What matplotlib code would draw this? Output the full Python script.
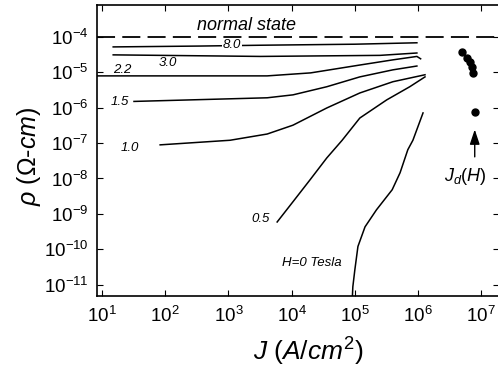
import matplotlib
matplotlib.use('Agg')
import matplotlib.pyplot as plt

plt.rcParams['font.family'] = ['Liberation Sans', 'DejaVu Sans']
plt.rcParams['mathtext.fontset'] = 'custom'
plt.rcParams['mathtext.rm'] = 'Liberation Sans'
plt.rcParams['mathtext.it'] = 'Liberation Sans:italic'

# resistivity curves rho(J) for each field H (Tesla)
J_80 = [15, 355, 3.2e3, 1e5, 9.6e5]
rho_80 = [5.2e-5, 5.5e-5, 5.8e-5, 6.2e-5, 6.8e-5]

J_30 = [15, 3.2e3, 2.5e5, 9.6e5]
rho_30 = [3.1e-5, 2.8e-5, 3.0e-5, 3.5e-5]

J_22 = [8.3, 4.1e3, 2.0e4, 1.2e5, 4.0e5, 9.6e5, 1.1e6]
rho_22 = [7.9e-6, 7.9e-6, 9.6e-6, 1.6e-5, 2.24e-5, 2.8e-5, 2.4e-5]

J_15 = [32, 4.1e3, 1.05e4, 3.6e4, 1.2e5, 4.0e5, 9.6e5]
rho_15 = [1.5e-6, 1.9e-6, 2.3e-6, 3.9e-6, 7.4e-6, 1.17e-5, 1.5e-5]

J_10 = [83, 1.06e3, 4.1e3, 1.05e4, 3.6e4, 1.2e5, 4.0e5, 1.29e6]
rho_10 = [8.9e-8, 1.2e-7, 1.8e-7, 3.2e-7, 9.8e-7, 2.6e-6, 5.4e-6, 8.5e-6]

J_05 = [5.9e3, 1.05e4, 1.95e4, 3.6e4, 6.3e4, 1.2e5, 3.2e5, 7.4e5, 1.29e6]
rho_05 = [5.9e-10, 2.2e-9, 9.1e-9, 3.8e-8, 1.2e-7, 5.1e-7, 1.66e-6, 3.9e-6, 7.4e-6]

J_00 = [9.1e4, 9.3e4, 1.0e5, 1.12e5, 1.45e5, 2.2e5, 3.9e5, 5.2e5, 6.9e5, 8.3e5, 1.2e6]
rho_00 = [3.7e-12, 8.7e-12, 2.6e-11, 1.2e-10, 4.3e-10, 1.3e-9, 4.8e-9, 1.45e-8,
          6.5e-8, 1.2e-7, 7.1e-7]

# depairing current density J_d(H)
J_d = [5.0e6, 6.0e6, 6.6e6, 7.1e6, 7.4e6, 7.9e6]
rho_d = [3.8e-5, 2.5e-5, 2.0e-5, 1.4e-5, 9.6e-6, 7.6e-7]

rho_normal = 1e-4

fig = plt.figure(figsize=(4.98, 3.70), dpi=100)
ax = fig.add_axes([0.1948, 0.2, 0.807, 0.7865])

ax.set_xscale('log')
ax.set_yscale('log')
ax.set_xlim(10**0.92, 10**7.28)
ax.set_ylim(10**-11.32, 10**-3.10)

lw = 1.1
ax.axhline(rho_normal, color='black', lw=1.3, linestyle=(0, (10, 4)))
for J, rho in [(J_80, rho_80), (J_30, rho_30), (J_22, rho_22), (J_15, rho_15),
               (J_10, rho_10), (J_05, rho_05), (J_00, rho_00)]:
    ax.plot(J, rho, color='black', lw=lw)

ax.plot(J_d, rho_d, 'o', color='black', ms=5)

ax.annotate('', xy=(7.9e6, 2.9e-7), xytext=(7.9e6, 3.4e-8),
            arrowprops=dict(arrowstyle='-|>,head_length=0.9,head_width=0.3',
                            color='black', lw=1.0))
ax.text(5.5e6, 1.1e-8, r'$J_d(H)$', fontsize=13, ha='center', va='center')

lab = dict(fontsize=9.5, style='italic', ha='center', va='center')
ax.text(1.9e3, 1.2e-4, 'normal state', fontsize=13, style='italic',
        ha='center', va='bottom')
ax.text(1.15e3, 5.8e-5, '8.0', bbox=dict(fc='white', ec='none', pad=0.5), **lab)
ax.text(110, 1.85e-5, '3.0', **lab)
ax.text(21, 1.17e-5, '2.2', **lab)
ax.text(19, 1.4e-6, '1.5', **lab)
ax.text(28, 7.2e-8, '1.0', **lab)
ax.text(3.2e3, 7.2e-10, '0.5', **lab)
ax.text(2.1e4, 4.2e-11, 'H=0 Tesla', **lab)

ax.minorticks_off()
ax.set_xticks([1e1, 1e2, 1e3, 1e4, 1e5, 1e6, 1e7])
ax.set_yticks([1e-11, 1e-10, 1e-9, 1e-8, 1e-7, 1e-6, 1e-5, 1e-4])
ax.tick_params(direction='in', length=4, width=0.8, top=True, right=True,
               labelsize=13.5)
ax.tick_params(axis='x', pad=7)
ax.tick_params(axis='y', pad=6)
for s in ax.spines.values():
    s.set_linewidth(1.2)
ax.spines['right'].set_visible(False)

fig.text(308 / 498, 1 - 352 / 370, r'$J\ (A/cm^2)$', fontsize=19,
         ha='center', va='center')
fig.text(29 / 498, 1 - 156 / 370, r'$\rho\ (\Omega$-$cm)$', fontsize=18,
         ha='center', va='center', rotation=90)

fig.savefig('out.png', dpi=100)
